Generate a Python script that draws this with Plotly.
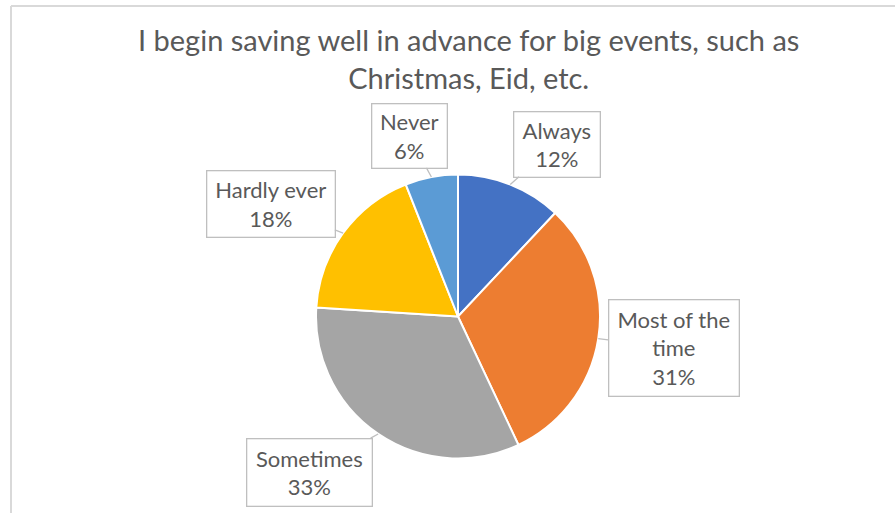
import math
import plotly.graph_objects as go

# Survey responses
categories = ["Always", "Most of the time", "Sometimes", "Hardly ever", "Never"]
shares = [12, 31, 33, 18, 6]
colors = ["#4472C4", "#ED7D31", "#A5A5A5", "#FFC000", "#5B9BD5"]
label_text = ["Always", "Most of the<br>time", "Sometimes", "Hardly ever", "Never"]

W, H = 895, 513
CX, CY, R = 458, 316.5, 142  # pie centre and radius in pixels

# Callout box centres (px) and sizes
box_center = [(556.5, 144), (673.5, 347.5), (309.5, 472), (270.5, 204.5), (409, 135.5)]
box_size = [(85, 64), (129, 95), (124, 66), (127, 65), (74, 63)]

FONT = "Lato"
TXT = "#595959"


def px(x):
    return x / W


def py(y):
    return 1 - y / H


fig = go.Figure(go.Pie(
    labels=categories,
    values=shares,
    sort=False,
    direction="clockwise",
    rotation=0,
    marker=dict(colors=colors, line=dict(color="white", width=2)),
    textinfo="none",
    hoverinfo="label+percent",
    showlegend=False,
    domain=dict(x=[px(CX - 220), px(CX + 220)], y=[py(CY + R), py(CY - R)]),
))

total = sum(shares)
annotations = []
cum = 0
for i, v in enumerate(shares):
    mid = (cum + v / 2) / total * 2 * math.pi
    cum += v
    tx = CX + R * math.sin(mid)
    ty = CY - R * math.cos(mid)
    bx, by = box_center[i]
    bw, bh = box_size[i]
    pct = round(v / total * 100)
    annotations.append(dict(
        x=px(tx), y=py(ty), xref="paper", yref="paper",
        ax=bx - tx, ay=by - ty,
        text=f"{label_text[i]}<br>{pct}%",
        showarrow=True, arrowhead=0, arrowwidth=1.3, arrowcolor="#BFBFBF",
        standoff=0, startstandoff=0,
        width=bw, height=bh, align="center", valign="middle",
        bordercolor="#BFBFBF", borderwidth=1.3, borderpad=0,
        bgcolor="white",
        font=dict(family=FONT, size=22, color=TXT),
    ))

annotations.append(dict(
    x=px(468), y=py(58), xref="paper", yref="paper",
    xanchor="center", yanchor="middle", showarrow=False,
    text="I begin saving well in advance for big events, such as<br>Christmas, Eid, etc.",
    font=dict(family=FONT, size=29, color=TXT),
))

# Chart area outline
fig.add_shape(type="line", xref="paper", yref="paper",
              x0=px(11), y0=py(6), x1=1.01, y1=py(6),
              line=dict(color="#D9D9D9", width=2))
fig.add_shape(type="line", xref="paper", yref="paper",
              x0=px(11), y0=py(6), x1=px(11), y1=-0.01,
              line=dict(color="#D9D9D9", width=2))

fig.update_layout(
    width=W, height=H,
    margin=dict(l=0, r=0, t=0, b=0),
    paper_bgcolor="white", plot_bgcolor="white",
    annotations=annotations,
)

fig.write_html("out.html")
